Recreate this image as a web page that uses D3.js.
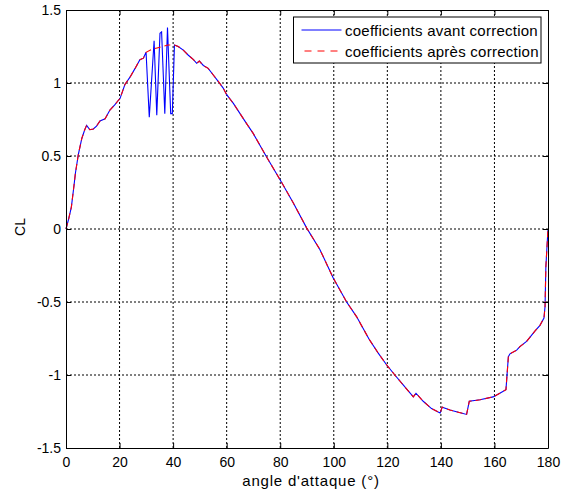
<!DOCTYPE html>
<html>
<head>
<meta charset="utf-8">
<script src="https://cdn.jsdelivr.net/npm/d3@7"></script>
<style>
body { margin:0; background:#fff; }
text { font-family: Arial, 'Liberation Sans', sans-serif; }
</style>
</head>
<body>
<svg id="chart" width="561" height="495"></svg>
<script>

//angles (degrees)
var angles = [0, 1, 2, 3, 3.5, 4.6, 5.9, 7, 7.7, 8.9, 10.2, 11.4, 12.7, 14.6, 16.4, 18.2, 19.5, 20.2,
	22, 23.9, 25.8, 27.6, 28.9, 29.9, 32, 34, 36, 38, 40.5, 41.9, 43.8, 45.7, 47.6, 48.8, 49.8,
	51.3, 53.1, 55, 56.9, 58.7, 60, 62.5, 65, 67.5, 69.9, 74.7, 80, 84.9, 89.9, 94.8, 99.8,
	104.8, 108.5, 113.2, 116.6, 119.7, 122.8, 126, 129.7, 130.7, 133.4, 136.5, 139.7, 140.5,
	143.4, 146.5, 149.6, 150.6, 154.6, 159.5, 162, 164.3, 165.2, 165.8, 168.3, 169.5, 172,
	173.3, 175.1, 177, 178.5, 178.9, 179.2, 180];

//CL after correction
var clApres = [0, 0.07, 0.15, 0.3, 0.38, 0.51, 0.62, 0.68, 0.71, 0.68, 0.685, 0.705, 0.74, 0.755, 0.815, 0.85, 0.88, 0.895,
	0.99, 1.04, 1.1, 1.16, 1.17, 1.21, 1.23, 1.24, 1.25, 1.26, 1.26, 1.25, 1.225, 1.19, 1.16, 1.135, 1.15,
	1.12, 1.1, 1.055, 1.01, 0.965, 0.92, 0.86, 0.79, 0.72, 0.655, 0.5, 0.336, 0.178, 0.006, -0.14, -0.336,
	-0.5, -0.6, -0.755, -0.85, -0.93, -1, -1.07, -1.15, -1.125, -1.18, -1.23, -1.26, -1.22,
	-1.24, -1.255, -1.27, -1.18, -1.17, -1.15, -1.125, -1.1, -0.875, -0.855, -0.83, -0.806, -0.77,
	-0.74, -0.7, -0.66, -0.61, -0.53, -0.26, 0];

//before correction: same curve, except the oscillating stretch between 30 and 40 degrees
var oscAngles = [31.1, 32.9, 33.9, 35.1, 35.7, 36.9, 37.9, 39.1, 39.7];
var oscCl = [0.765, 1.29, 0.78, 1.34, 1.35, 0.79, 1.38, 0.79, 0.79];

var xTicks = [0, 20, 40, 60, 80, 100, 120, 140, 160, 180];
var yTicks = [-1.5, -1, -0.5, 0, 0.5, 1, 1.5];
var legendLabels = ['coefficients avant correction', 'coefficients après correction'];

//build the two series
var apres = angles.map(function(a, i){ return {x:a, y:clApres[i]}; });
var avant = apres.filter(function(d){ return d.x <= 29.9 || d.x >= 40.5; })
	.concat(oscAngles.map(function(a, i){ return {x:a, y:oscCl[i]}; }))
	.sort(function(a, b){ return a.x - b.x; });

//plot box
var pLeft = 66, pRight = 548, pTop = 10, pBottom = 448;

var x = d3.scaleLinear().domain([0, 180]).range([pLeft, pRight]);
var y = d3.scaleLinear().domain([-1.5, 1.5]).range([pBottom, pTop]);

var svg = d3.select('#chart');

//grid
svg.append('g').selectAll('line').data(xTicks.slice(1, -1)).enter()
	.append('line')
	.attr('x1', function(d){ return x(d); }).attr('x2', function(d){ return x(d); })
	.attr('y1', pTop).attr('y2', pBottom)
	.attr('stroke', '#000').attr('stroke-width', 1).attr('stroke-dasharray', '2,2');

svg.append('g').selectAll('line').data(yTicks.slice(1, -1)).enter()
	.append('line')
	.attr('y1', function(d){ return y(d); }).attr('y2', function(d){ return y(d); })
	.attr('x1', pLeft).attr('x2', pRight)
	.attr('stroke', '#000').attr('stroke-width', 1).attr('stroke-dasharray', '2,2');

//curves
var line = d3.line().x(function(d){ return x(d.x); }).y(function(d){ return y(d.y); });

svg.append('path').datum(avant)
	.attr('d', line)
	.attr('fill', 'none').attr('stroke', '#0000ff').attr('stroke-width', 1.1);

svg.append('path').datum(apres)
	.attr('d', line)
	.attr('fill', 'none').attr('stroke', '#ff0000').attr('stroke-width', 1.1)
	.attr('stroke-dasharray', '6,4');

//axes (ticks inside, box all round)
var fontSize = '14px';

svg.append('g').attr('transform', 'translate(0,' + pBottom + ')')
	.call(d3.axisBottom(x).tickValues(xTicks).tickSizeInner(-5).tickSizeOuter(0).tickPadding(9));
svg.append('g').attr('transform', 'translate(0,' + pTop + ')')
	.call(d3.axisTop(x).tickValues(xTicks).tickSizeInner(-5).tickSizeOuter(0).tickFormat(''));
svg.append('g').attr('transform', 'translate(' + pLeft + ',0)')
	.call(d3.axisLeft(y).tickValues(yTicks).tickSizeInner(-5).tickSizeOuter(0).tickPadding(5)
		.tickFormat(function(d){ return d; }));
svg.append('g').attr('transform', 'translate(' + pRight + ',0)')
	.call(d3.axisRight(y).tickValues(yTicks).tickSizeInner(-5).tickSizeOuter(0).tickFormat(''));

svg.selectAll('.domain').attr('stroke', '#000').attr('stroke-width', 1);
svg.selectAll('.tick line').attr('stroke', '#000');
svg.selectAll('.tick text').attr('fill', '#000').style('font-size', fontSize)
	.style('font-family', 'Arial, "Liberation Sans", sans-serif');

//axis titles
svg.append('text')
	.attr('x', 311).attr('y', 486)
	.style('text-anchor', 'middle').style('font-size', '15px')
	.style('letter-spacing', '0.8px')
	.text("angle d'attaque (°)");

svg.append('text')
	.attr('transform', 'translate(25,' + (y(0) - 2) + ') rotate(-90)')
	.style('text-anchor', 'middle').style('font-size', fontSize)
	.text('CL');

//legend
var legend = svg.append('g').attr('transform', 'translate(293.5,17)');

legend.append('rect')
	.attr('width', 247.5).attr('height', 46)
	.attr('fill', '#fff').attr('stroke', '#000').attr('stroke-width', 1);

var items = legend.selectAll('.item').data(legendLabels).enter()
	.append('g')
	.attr('class', 'item')
	.attr('transform', function(d, i){ return 'translate(0,' + (13 + i * 21) + ')'; });

items.append('line')
	.attr('x1', 8).attr('x2', 48)
	.attr('stroke', function(d, i){ return i == 0 ? '#0000ff' : '#ff0000'; })
	.attr('stroke-dasharray', function(d, i){ return i == 0 ? null : '7,6'; })
	.attr('stroke-dashoffset', function(d, i){ return i == 0 ? null : 10; });

items.append('text')
	.attr('x', 51.5).attr('y', 0)
	.style('dominant-baseline', 'central')
	.style('font-size', '15px')
	.style('letter-spacing', '0.25px')
	.text(function(d){ return d; });

</script>
</body>
</html>
